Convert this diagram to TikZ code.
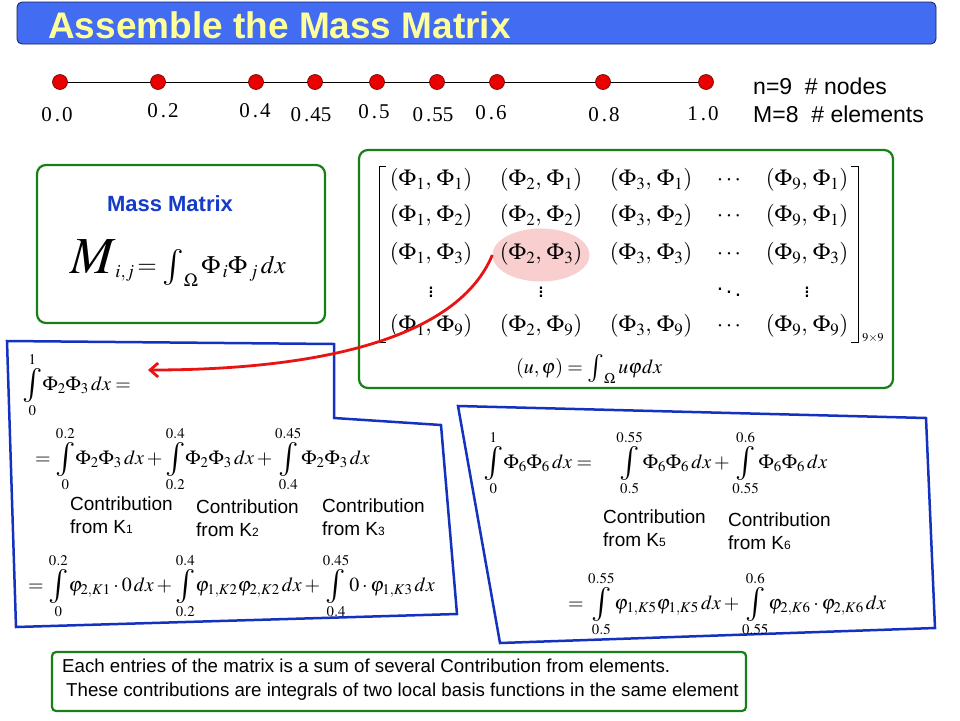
\documentclass[tikz,border=0pt]{standalone}
\usepackage{mathptmx}
\usepackage[no-math]{fontspec}
\setmainfont{Liberation Sans}
\newfontfamily\serifnum{Liberation Serif}
\usetikzlibrary{shapes.geometric,arrows.meta}
\definecolor{titleblue}{RGB}{66,108,242}
\definecolor{titleyellow}{RGB}{255,255,153}
\definecolor{navy}{RGB}{20,30,90}
\definecolor{boxgreen}{RGB}{22,128,22}
\definecolor{polyblue}{RGB}{20,50,190}
\definecolor{nodered}{RGB}{235,0,0}
\definecolor{arrowred}{RGB}{232,20,20}
\definecolor{pinkfill}{RGB}{248,206,206}
\definecolor{massblue}{RGB}{20,60,200}
\tikzset{
  titlebar/.style={fill=titleblue, draw=navy, line width=0.8pt, rounded corners=5pt},
  greenbox/.style={draw=boxgreen, line width=2.2pt, rounded corners=9pt, fill=white},
  bluepoly/.style={draw=polyblue, line width=2.5pt},
  fenode/.style={circle, fill=nodered, draw=black!60!red, line width=0.6pt, minimum size=15pt, inner sep=0pt},
  numlbl/.style={font=\fontsize{21}{22}\selectfont\serifnum, inner sep=0pt},
  info/.style={font=\fontsize{23}{25}\selectfont, anchor=west, inner sep=0pt},
  entry/.style={font=\fontsize{23}{25}\selectfont, inner sep=0pt},
  eq/.style={font=\fontsize{20}{22}\selectfont, anchor=west, inner sep=0pt},
  contrib/.style={font=\fontsize{19}{23}\selectfont, align=left, anchor=north west, inner sep=0pt},
  redarrow/.style={draw=arrowred, line width=2.8pt, -{Straight Barb[length=8pt,width=14pt]}}
}
\newcommand{\Ksub}[1]{K{\fontsize{12}{12}\selectfont #1}}
\newcommand{\bint}{\mathop{\vcenter{\hbox{\fontsize{34}{34}\selectfont$\intop$}}}\limits}
\newcommand{\omint}{\mathop{\vcenter{\hbox{\fontsize{36}{36}\selectfont$\intop$}}}\nolimits}
\newcommand{\smint}{\mathop{\vcenter{\hbox{\fontsize{28}{28}\selectfont$\intop$}}}\nolimits}
\begin{document}
\begin{tikzpicture}[x=1pt,y=-1pt]
\useasboundingbox (0,0) rectangle (960,720);
% title
\draw[titlebar] (17,2) rectangle (936,44);
\node[anchor=west, inner sep=0pt, font=\fontsize{37}{38}\selectfont\bfseries, text=titleyellow] (title) at (48,25) {Assemble the Mass Matrix};
% node line
\coordinate (lineA) at (60,82);
\coordinate (lineB) at (706,82);
\draw[line width=1pt] (lineA) -- (lineB);
\node[fenode] (n1) at (60,82) {};
\node[fenode] (n2) at (158,82) {};
\node[fenode] (n3) at (256,82) {};
\node[fenode] (n4) at (315,82) {};
\node[fenode] (n5) at (377,82) {};
\node[fenode] (n6) at (437,82) {};
\node[fenode] (n7) at (497,82) {};
\node[fenode] (n8) at (603,82) {};
\node[fenode] (n9) at (706,82) {};
\node[numlbl] (l1) at (57,115) {0\hspace{3pt}.\hspace{2pt}0};
\node[numlbl] (l2) at (163,111) {0\hspace{3pt}.\hspace{2pt}2};
\node[numlbl] (l3) at (255,111) {0\hspace{3pt}.\hspace{2pt}4};
\node[numlbl] (l4) at (311,115) {0\hspace{3pt}.\hspace{1pt}45};
\node[numlbl] (l5) at (374,112) {0\hspace{3pt}.\hspace{2pt}5};
\node[numlbl] (l6) at (433,115) {0\hspace{3pt}.\hspace{1pt}55};
\node[numlbl] (l7) at (491,113) {0\hspace{3pt}.\hspace{2pt}6};
\node[numlbl] (l8) at (604,115) {0\hspace{3pt}.\hspace{2pt}8};
\node[numlbl] (l9) at (703,114) {1\hspace{3pt}.\hspace{2pt}0};
\node[info] (nn) at (753,86) {n=9\ \ \# nodes};
\node[info] (mm) at (753,114) {M=8\ \ \# elements};
% mass matrix box
\draw[greenbox] (37,165) rectangle (325,323);
\node[inner sep=0pt, font=\fontsize{22}{24}\selectfont\bfseries, text=massblue] (mtitle) at (170,204) {Mass Matrix};
\node[inner sep=0pt, font=\fontsize{25}{27}\selectfont] (mform) at (178,263)
  {$\mbox{\fontsize{52}{52}\selectfont$M$}_{i,j}\!=\omint_{\Omega}\Phi_{\,i}\Phi_{\,j}\,dx$};
% matrix box
\draw[greenbox] (359,150) rectangle (893,388);
\node[ellipse, fill=pinkfill, minimum width=97pt, minimum height=53pt, inner sep=0pt] (e23) at (541,255) {};
\draw[line width=1pt] (386,166) -- (379,166) -- (379,342) -- (386,342);
\draw[line width=1pt] (851,166) -- (858,166) -- (858,342) -- (851,342);
\foreach \r/\y in {1/180,2/216,3/254,9/326}{
  \node[entry] (m1\r) at (431,\y) {$(\Phi_{1},\,\Phi_{\r})$};
  \node[entry] (m2\r) at (541,\y) {$(\Phi_{2},\,\Phi_{\r})$};
  \node[entry] (m3\r) at (651,\y) {$(\Phi_{3},\,\Phi_{\r})$};
  \node[entry] (m4\r) at (729,\y) {$\cdots$};
}
\node[entry] (m51) at (807,180) {$(\Phi_{9},\,\Phi_{1})$};
\node[entry] (m52) at (807,216) {$(\Phi_{9},\,\Phi_{1})$};
\node[entry] (m53) at (807,254) {$(\Phi_{9},\,\Phi_{3})$};
\node[entry] (m59) at (807,326) {$(\Phi_{9},\,\Phi_{9})$};
\node[entry] (d1) at (431,289) {$\vdots$};
\node[entry] (d2) at (541,289) {$\vdots$};
\node[entry] (d4) at (729,289) {$\ddots$};
\node[entry] (d5) at (807,289) {$\vdots$};
\node[inner sep=0pt, font=\fontsize{12}{12}\selectfont] (size) at (873,338) {$9{\times}9$};
\node[inner sep=0pt, font=\fontsize{20}{22}\selectfont] (inner) at (589,369) {$(u,\varphi)=\smint_{\Omega}u\varphi dx$};
% left polygon
\draw[bluepoly] (7,341) -- (334,344) -- (334,418) -- (441,425) -- (457,614) -- (16,627) -- cycle;
\node[eq] (a1) at (22,385) {$\bint_{0}^{1}\!\Phi_2\Phi_3\,dx=$};
\node[eq] (a2) at (35,459) {$=\bint_{0}^{0.2}\!\Phi_2\Phi_3\,dx+\bint_{0.2}^{0.4}\!\Phi_2\Phi_3\,dx+\bint_{0.4}^{0.45}\!\Phi_2\Phi_3\,dx$};
\node[contrib] (k1) at (70,497) {Contribution\\from \Ksub{1}};
\node[contrib] (k2) at (196,500) {Contribution\\from \Ksub{2}};
\node[contrib] (k3) at (322,499) {Contribution\\from \Ksub{3}};
\node[eq] (a3) at (28,586) {$=\bint_{0}^{0.2}\!\varphi_{2,K1}\cdot 0\,dx+\bint_{0.2}^{0.4}\!\varphi_{1,K2}\varphi_{2,K2}\,dx+\bint_{0.4}^{0.45}\!0\cdot\varphi_{1,K3}\,dx$};
% right polygon
\draw[bluepoly] (458,406) -- (926,418) -- (935,628) -- (500,643) -- cycle;
\node[eq] (b1) at (483,463) {$\bint_{0}^{1}\!\Phi_6\Phi_6\,dx=\quad\bint_{0.5}^{0.55}\!\Phi_6\Phi_6\,dx+\bint_{0.55}^{0.6}\!\Phi_6\Phi_6\,dx$};
\node[contrib] (k5) at (603,510) {Contribution\\from \Ksub{5}};
\node[contrib] (k6) at (728,513) {Contribution\\from \Ksub{6}};
\node[eq] (b2) at (568,604) {$=\bint_{0.5}^{0.55}\!\varphi_{1,K5}\varphi_{1,K5}\,dx+\bint_{0.55}^{0.6}\!\varphi_{2,K6}\cdot\varphi_{2,K6}\,dx$};
% arrow
\coordinate (tip) at (148,370);
\draw[redarrow] (e23.west) .. controls (455,345) and (300,370) .. (tip);
% bottom box
\draw[greenbox, rounded corners=4pt] (52,652) rectangle (746,711);
\node[anchor=north west, inner sep=0pt, align=left, font=\fontsize{18.7}{24}\selectfont] (note) at (62,659)
  {Each entries of the matrix is a sum of several Contribution from elements.\\\hspace{4pt}These contributions are integrals of two\ local basis functions in the same element};
\end{tikzpicture}
\end{document}
